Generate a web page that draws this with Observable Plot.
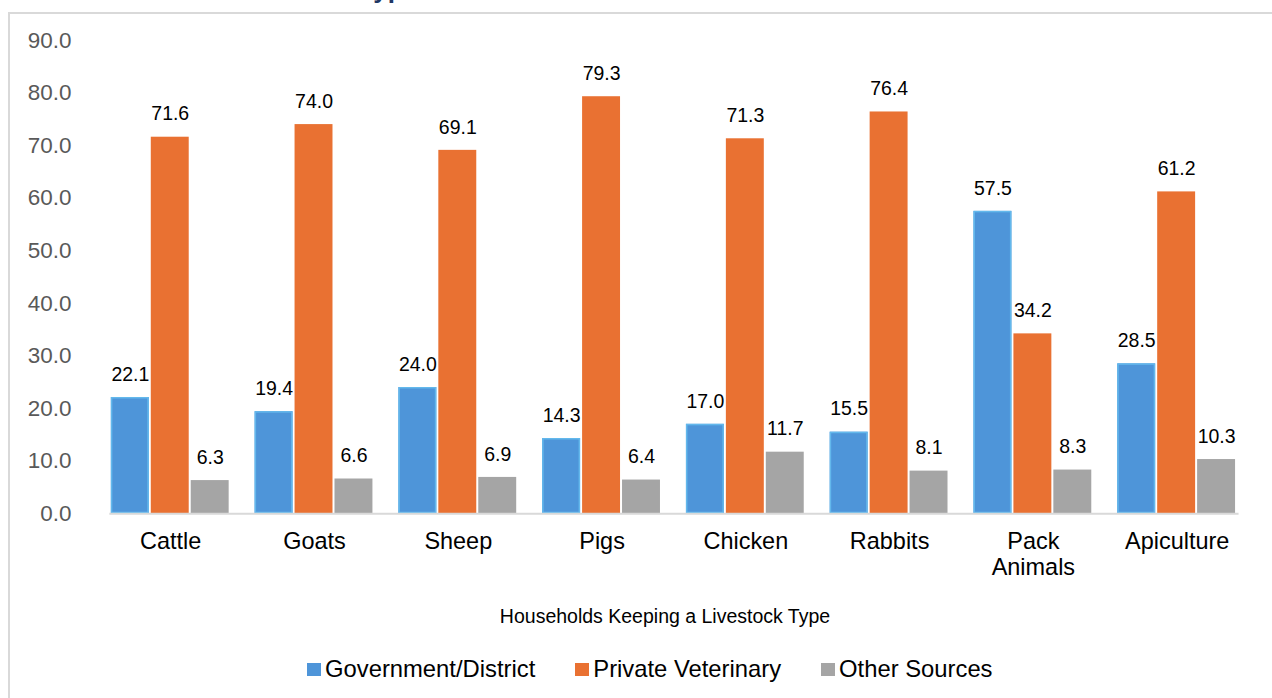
<!DOCTYPE html>
<html><head><meta charset="utf-8">
<script src="https://cdn.jsdelivr.net/npm/d3@7"></script>
<script src="https://cdn.jsdelivr.net/npm/@observablehq/plot@0.6"></script>
<style>
body{margin:0;background:#fff;font-family:"Liberation Sans",Arial,sans-serif;overflow:hidden;width:1272px;height:698px;position:relative;}
#title{position:absolute;right:854px;top:-24px;font:bold 26px/26px "Liberation Sans",Arial,sans-serif;color:#1F3864;white-space:nowrap;}
#frame{position:absolute;left:8px;top:12px;width:1400px;height:800px;border-left:2px solid #d9d9d9;border-top:2px solid #d9d9d9;}
#chart{position:absolute;left:10px;top:14px;}
#xtitle{position:absolute;left:0;width:1330px;top:605px;text-align:center;font-size:19.5px;line-height:22px;color:#000;}
#legend{position:absolute;left:307px;top:657px;display:flex;align-items:center;font-size:23.8px;line-height:24px;color:#000;white-space:nowrap;}
#legend .sw{width:14px;height:13px;display:inline-block;margin-right:4px;}
#legend .it{display:flex;align-items:center;margin-right:40px;}
</style></head>
<body>
<div id="title">Animal Health Service Sources for Each Livestock Type</div>
<div id="frame"></div>
<div id="chart"></div>
<div id="xtitle">Households Keeping a Livestock Type</div>
<div id="legend"></div>
<script>
const categories = ["Cattle","Goats","Sheep","Pigs","Chicken","Rabbits","Pack Animals","Apiculture"];
const categoryLabels = ["Cattle","Goats","Sheep","Pigs","Chicken","Rabbits","Pack\nAnimals","Apiculture"];
const series = ["Government/District","Private Veterinary","Other Sources"];
const colors = ["#4E95D9","#E97132","#A5A5A5"];
const government = [22.1,19.4,24.0,14.3,17.0,15.5,57.5,28.5];
const privateVet = [71.6,74.0,69.1,79.3,71.3,76.4,34.2,61.2];
const otherSources = [6.3,6.6,6.9,6.4,11.7,8.1,8.3,10.3];
const yTicks = [0,10,20,30,40,50,60,70,80,90];

const seriesValues = [government, privateVet, otherSources];
const data = [];
categories.forEach((c,i)=>{
  series.forEach((s,j)=>{ data.push({category:c, series:s, value:seriesValues[j][i]}); });
});
const labelOf = new Map(categories.map((c,i)=>[c,categoryLabels[i]]));

const chart = Plot.plot({
  width:1264, height:580,
  marginTop:26, marginLeft:86, marginRight:22, marginBottom:80,
  style:{fontFamily:"Liberation Sans, Arial, sans-serif", background:"transparent", overflow:"visible"},
  fx:{domain:categories, paddingInner:0.16, paddingOuter:0.08, label:null},
  x:{domain:series, paddingInner:0.04, paddingOuter:0, axis:null},
  y:{domain:[0,90]},
  color:{domain:series, range:colors},
  marks:[
    Plot.axisY({ticks:yTicks, tickSize:0, tickPadding:39, tickFormat:d3.format(".1f"), fontSize:22.5, fill:"#595959", label:null}),
    Plot.axisFx({anchor:"bottom", tickSize:0, tickPadding:16, fontSize:23.5, lineHeight:1.14, fill:"#000", label:null, tickFormat:d=>labelOf.get(d)}),
    Plot.barY(data,{fx:"category", x:"series", y:"value", fill:"series"}),
    Plot.barY(data.filter(d=>d.series===series[0]),{fx:"category", x:"series", y:"value", fill:"none", stroke:"#63B8EC", strokeWidth:1.5, inset:0.75}),
    Plot.frame({anchor:"bottom", facet:"super", stroke:"#d9d9d9", strokeWidth:2, strokeOpacity:1}),
    Plot.text(data,{fx:"category", x:"series", y:"value", text:d=>d.value.toFixed(1), dy:-23, fontSize:19.5, fill:"#000"})
  ]
});
document.getElementById("chart").appendChild(chart);

const legend = document.getElementById("legend");
series.forEach((s,i)=>{
  const it = document.createElement("div"); it.className="it";
  const sw = document.createElement("span"); sw.className="sw"; sw.style.background=colors[i];
  const tx = document.createElement("span"); tx.textContent=s;
  it.appendChild(sw); it.appendChild(tx); legend.appendChild(it);
});
</script>
</body></html>
